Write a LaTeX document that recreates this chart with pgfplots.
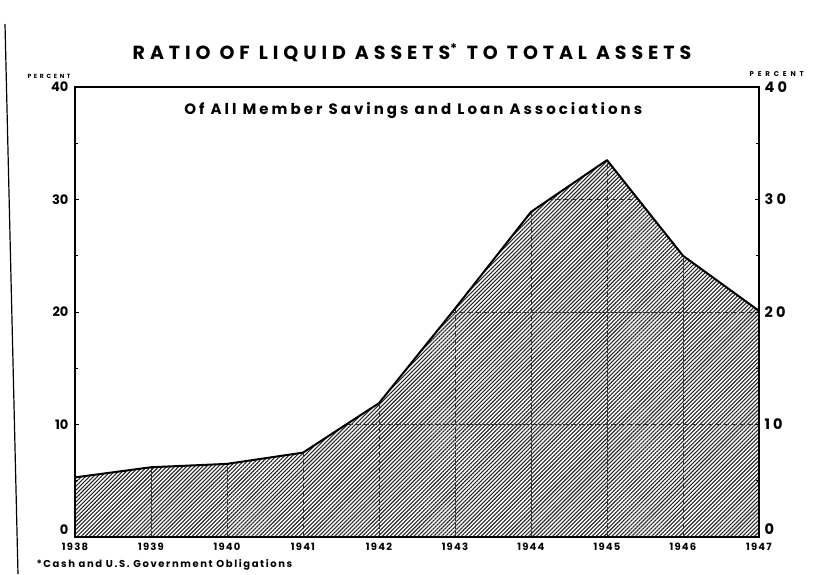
\documentclass[border=0pt]{standalone}
\usepackage{pgfplots}
\pgfplotsset{compat=1.18}
\usepackage{pgfplotstable}
\usepgfplotslibrary{fillbetween}
\usetikzlibrary{patterns.meta}
\usepackage{fontspec}
\setmainfont{Poppins}

\pgfplotstableread{
year ratio
1938 5.3
1939 6.2
1940 6.5
1941 7.5
1942 11.9
1943 20.3
1944 28.9
1945 33.5
1946 25.0
1947 20.1
}\ratiodata

\begin{document}
\begin{tikzpicture}[x=1pt,y=1pt]
\begin{axis}[
  at={(75pt,37pt)}, anchor=south west,
  width=684pt, height=450pt, scale only axis,
  xmin=1938, xmax=1947, ymin=0, ymax=40,
  set layers, axis on top,
  fill between/on layer=main,
  xtick={1938,...,1947},
  xticklabels={1938,1939,1940,1941,1942,1943,1944,1945,1946,1947},
  xticklabel style={font=\fontsize{10}{10}\selectfont\bfseries\addfontfeatures{LetterSpace=12}, yshift=-2pt},
  x tick style={draw=none},
  ytick={10,20,30,40}, minor ytick={5,15,25,35},
  extra y ticks={0},
  extra y tick style={yticklabel style={yshift=7pt}},
  yticklabel style={font=\fontsize{13}{13}\selectfont\bfseries, xshift=-3pt},
  ytick pos=both, yticklabel pos=left,
  tick align=inside,
  major tick length=4pt, minor tick length=3pt,
  tick style={line width=0.8pt, black},
  /pgf/number format/assume math mode=true,
  axis line style={line width=1.3pt},
  clip=false,
]
\addplot[draw=none, name path=curve, forget plot] table[x=year,y=ratio]{\ratiodata};
\addplot[draw=none, name path=top, forget plot] coordinates {(1938,40) (1947,40)};
\addplot[draw=none, pattern={Lines[angle=45,distance=2.8pt,line width=1.1pt]}, pattern color=black!85] table[x=year,y=ratio]{\ratiodata} \closedcycle;
\draw[black!80, line width=0.7pt, dash pattern=on 6pt off 2pt] (axis cs:1938,10) -- (axis cs:1947,10);
\draw[black!80, line width=0.7pt, dash pattern=on 6pt off 2pt] (axis cs:1938,20) -- (axis cs:1947,20);
\draw[black!80, line width=0.7pt, dash pattern=on 6pt off 2pt] (axis cs:1938,30) -- (axis cs:1947,30);
\addplot[fill=white, draw=none] fill between[of=curve and top];
\addplot[ycomb, mark=none, black!80, line width=0.7pt, dash pattern=on 6pt off 2pt] table[x=year,y=ratio]{\ratiodata};
\addplot[black, line width=2pt, mark=none, line join=round] table[x=year,y=ratio]{\ratiodata};
\node[font=\fontsize{15}{15}\selectfont\bfseries\addfontfeatures{LetterSpace=20}] at (axis cs:1942.45,37.9) {Of All Member Savings and Loan Associations};
\end{axis}
\begin{axis}[
  at={(75pt,37pt)}, anchor=south west,
  width=684pt, height=450pt, scale only axis,
  xmin=1938, xmax=1947, ymin=0, ymax=40,
  hide x axis, axis y line*=right,
  y axis line style={draw=none},
  ytick={10,20,30,40},
  extra y ticks={0},
  extra y tick style={yticklabel style={yshift=8pt}},
  ytick style={draw=none},
  yticklabel style={font=\fontsize{14.5}{14.5}\selectfont\bfseries\addfontfeatures{LetterSpace=22}, xshift=2pt},
  /pgf/number format/assume math mode=true,
]
\addplot[draw=none] coordinates {(1938,0)};
\end{axis}
\node[font=\fontsize{19}{19}\selectfont\bfseries\addfontfeatures{LetterSpace=26}] at (412,521) {RATIO OF LIQUID ASSETS\textsuperscript{*} TO TOTAL ASSETS};
\node[font=\fontsize{10}{10}\selectfont\bfseries\addfontfeatures{LetterSpace=16}, anchor=west] at (33,9) {*Cash and U.S. Government Obligations};
\node[font=\fontsize{6}{6}\selectfont\bfseries\addfontfeatures{LetterSpace=45}, anchor=west] at (24,498) {PERCENT};
\node[font=\fontsize{7}{7}\selectfont\bfseries\addfontfeatures{LetterSpace=55}, anchor=west] at (746,500) {PERCENT};
\draw[line width=1.2pt] (5,550) -- (18,0);
\pgfresetboundingbox
\path[use as bounding box] (0,0) rectangle (821,574);
\end{tikzpicture}
\end{document}
